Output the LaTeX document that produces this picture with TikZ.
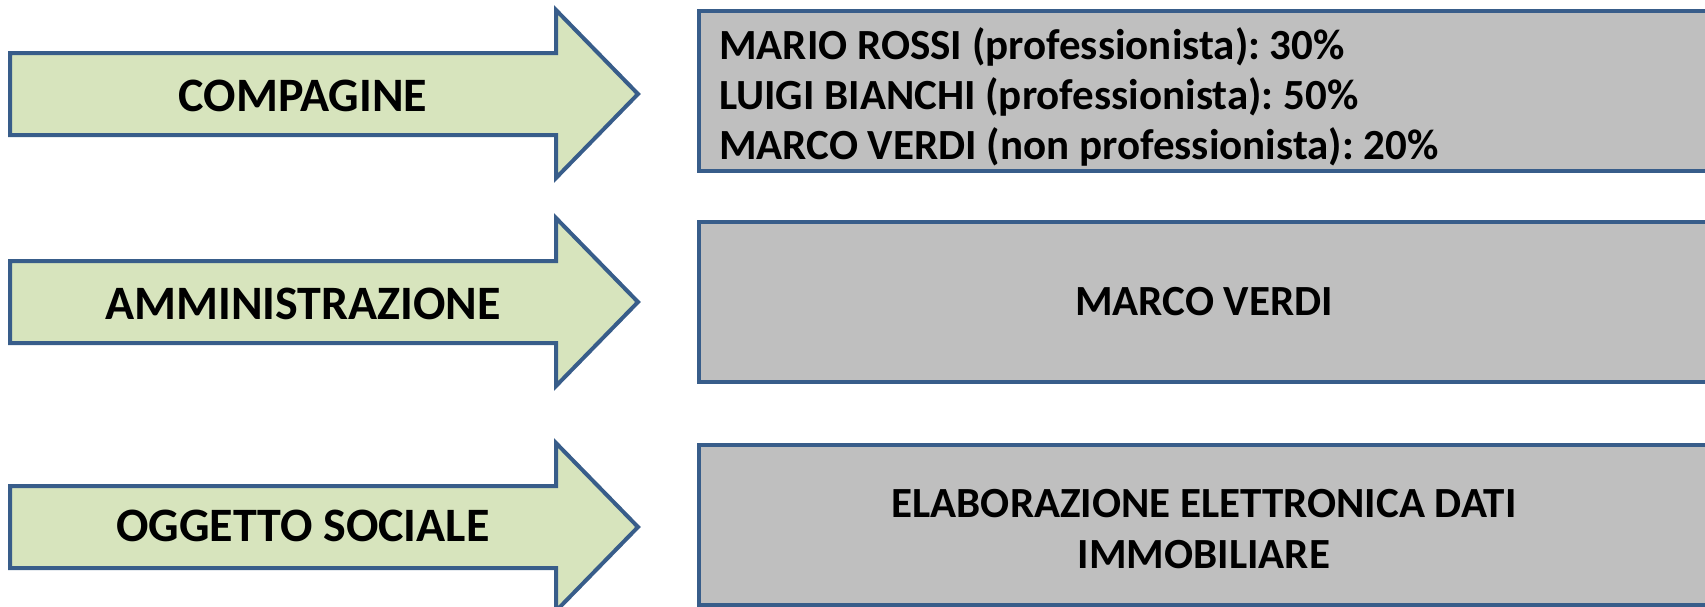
\documentclass[tikz,border=0pt]{standalone}
\usepackage{fontspec}
\setmainfont{Carlito}
\frenchspacing
\usetikzlibrary{positioning}
\definecolor{myBlue}{RGB}{56,93,138}
\definecolor{myGreen}{RGB}{215,228,189}
\definecolor{myGray}{RGB}{191,191,191}

\tikzset{
  arrowline/.style={draw=myBlue, fill=myGreen, line width=4pt, line join=miter},
  arrowtext/.style={font=\fontsize{48}{54}\selectfont\bfseries},
  infobox/.style={rectangle, draw=myBlue, fill=myGray, line width=4pt,
    minimum width=1010pt, minimum height=160pt},
  boxtext/.style={inner sep=0pt, font=\fontsize{43}{51}\selectfont\bfseries}
}

\begin{document}
\begin{tikzpicture}[x=1pt, y=-1pt]
			\useasboundingbox (0,0) rectangle (1705,606);
			\clip (0,0) rectangle (1705,606);
			% Arrows
			\draw[arrowline] (10,53) -- (556,53) -- (556,10) -- (638,94) -- (556,178) -- (556,135) -- (10,135) -- cycle;
			\draw[arrowline] (10,261) -- (556,261) -- (556,218) -- (638,302) -- (556,386) -- (556,343) -- (10,343) -- cycle;
			\draw[arrowline] (10,486) -- (556,486) -- (556,443) -- (638,527) -- (556,611) -- (556,568) -- (10,568) -- cycle;
			\node[arrowtext] (compagine) at (303,96) {COMPAGINE};
			\node[arrowtext] (amministrazione) at (303,304) {AMMINISTRAZIONE};
			\node[arrowtext] (oggetto) at (303,526) {OGGETTO SOCIALE};
			% Boxes
			\node[infobox] (soci) at (1204,91) {};
			\node[infobox] (amministratore) at (1204,302) {};
			\node[infobox] (attivita) at (1204,525) {};
			% Box texts
			\node[boxtext, font=\fontsize{43}{50}\selectfont\bfseries, align=left, anchor=west] (soci text) at ([xshift=22pt, yshift=-6pt]soci.west) {MARIO ROSSI (professionista): 30\%\\LUIGI BIANCHI (professionista): 50\%\\MARCO VERDI (non professionista): 20\%};
			\node[boxtext] (amministratore text) at (amministratore.center) {MARCO VERDI};
			\node[boxtext, align=center] (attivita text) at ([yshift=-4pt]attivita.center) {ELABORAZIONE ELETTRONICA DATI\\IMMOBILIARE};
		\end{tikzpicture}
\end{document}
